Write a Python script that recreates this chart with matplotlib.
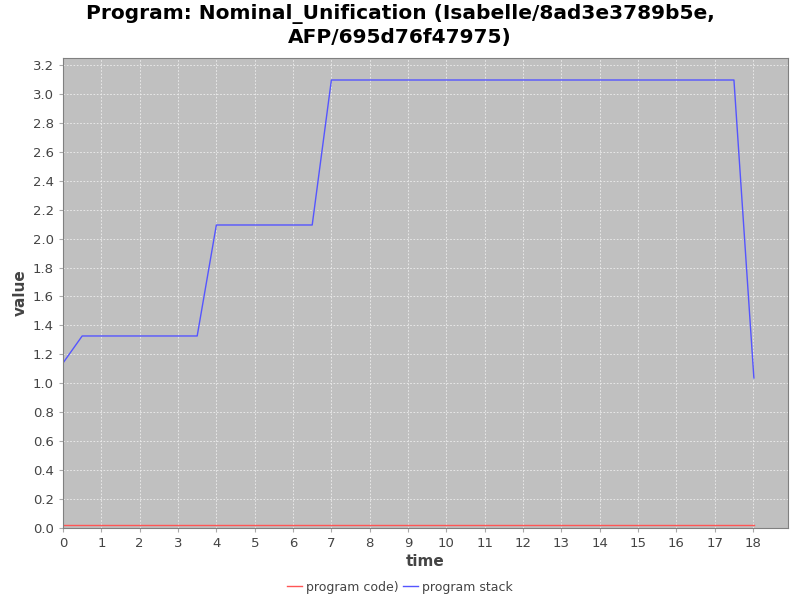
import matplotlib
matplotlib.use("Agg")
import matplotlib.pyplot as plt
import numpy as np

time_stack = [0.0, 0.5, 1.0, 1.5, 2.0, 2.5, 3.0, 3.5, 4.0, 4.5, 5.0, 5.5, 6.0, 6.5,
              7.0, 7.5, 8.0, 8.5, 9.0, 9.5, 10.0, 10.5, 11.0, 11.5, 12.0, 12.5, 13.0,
              13.5, 14.0, 14.5, 15.0, 15.5, 16.0, 16.5, 17.0, 17.5, 18.02]
stack_vals = [1.14, 1.327, 1.327, 1.327, 1.327, 1.327, 1.327, 1.327,
              2.094, 2.094, 2.094, 2.094, 2.094, 2.094,
              3.096, 3.096, 3.096, 3.096, 3.096, 3.096, 3.096, 3.096, 3.096, 3.096,
              3.096, 3.096, 3.096, 3.096, 3.096, 3.096, 3.096, 3.096, 3.096, 3.096,
              3.096, 3.096, 1.037]
code_vals = [0.02] * len(time_stack)

title = "Program: Nominal_Unification (Isabelle/8ad3e3789b5e,\nAFP/695d76f47975)"
xticks = list(range(0, 19))
yticks = [round(0.2 * i, 1) for i in range(17)]

fig = plt.figure(figsize=(8, 6), dpi=100)
ax = fig.add_axes([63/800, 1 - 528/600, (788-63)/800, (528-58)/600])
ax.set_facecolor("#C0C0C0")
ax.plot(time_stack, code_vals, color="#FF5555", lw=1.0, label="program code)")
ax.plot(time_stack, stack_vals, color="#5555FF", lw=1.0, label="program stack")
ax.set_xlim(0, 18.91)
ax.set_ylim(0, 3.248)
ax.set_xticks(xticks)
ax.set_yticks(yticks)
ax.set_yticklabels([f"{v:.1f}" for v in yticks])
ax.grid(True, color="#EEEEEE", linestyle=(0, (2, 2)), linewidth=0.6)
ax.set_axisbelow(True)
for s in ["top", "right", "left", "bottom"]:
    ax.spines[s].set_color("#808080")
ax.tick_params(axis="both", colors="#444444", labelsize=9.5, length=3, direction="out")
ax.tick_params(axis="both", color="#AAAAAA")
ax.set_xlabel("time", fontsize=11, fontweight="bold", color="#444444", labelpad=3)
ax.set_ylabel("value", fontsize=11, fontweight="bold", color="#444444", labelpad=4)
fig.text(0.5, 1 - 14/600, "Program: Nominal_Unification (Isabelle/8ad3e3789b5e,",
         ha="center", va="center", fontsize=14.5, fontweight="bold")
fig.text(0.5, 1 - 37/600, "AFP/695d76f47975)",
         ha="center", va="center", fontsize=14.5, fontweight="bold")
fig.legend(loc="center", bbox_to_anchor=(0.5, 1 - 587/600), ncol=2, frameon=False,
           fontsize=9, handlelength=1.2, handletextpad=0.3, columnspacing=0.4,
           labelcolor="#444444")
fig.savefig("out.png", dpi=100)
